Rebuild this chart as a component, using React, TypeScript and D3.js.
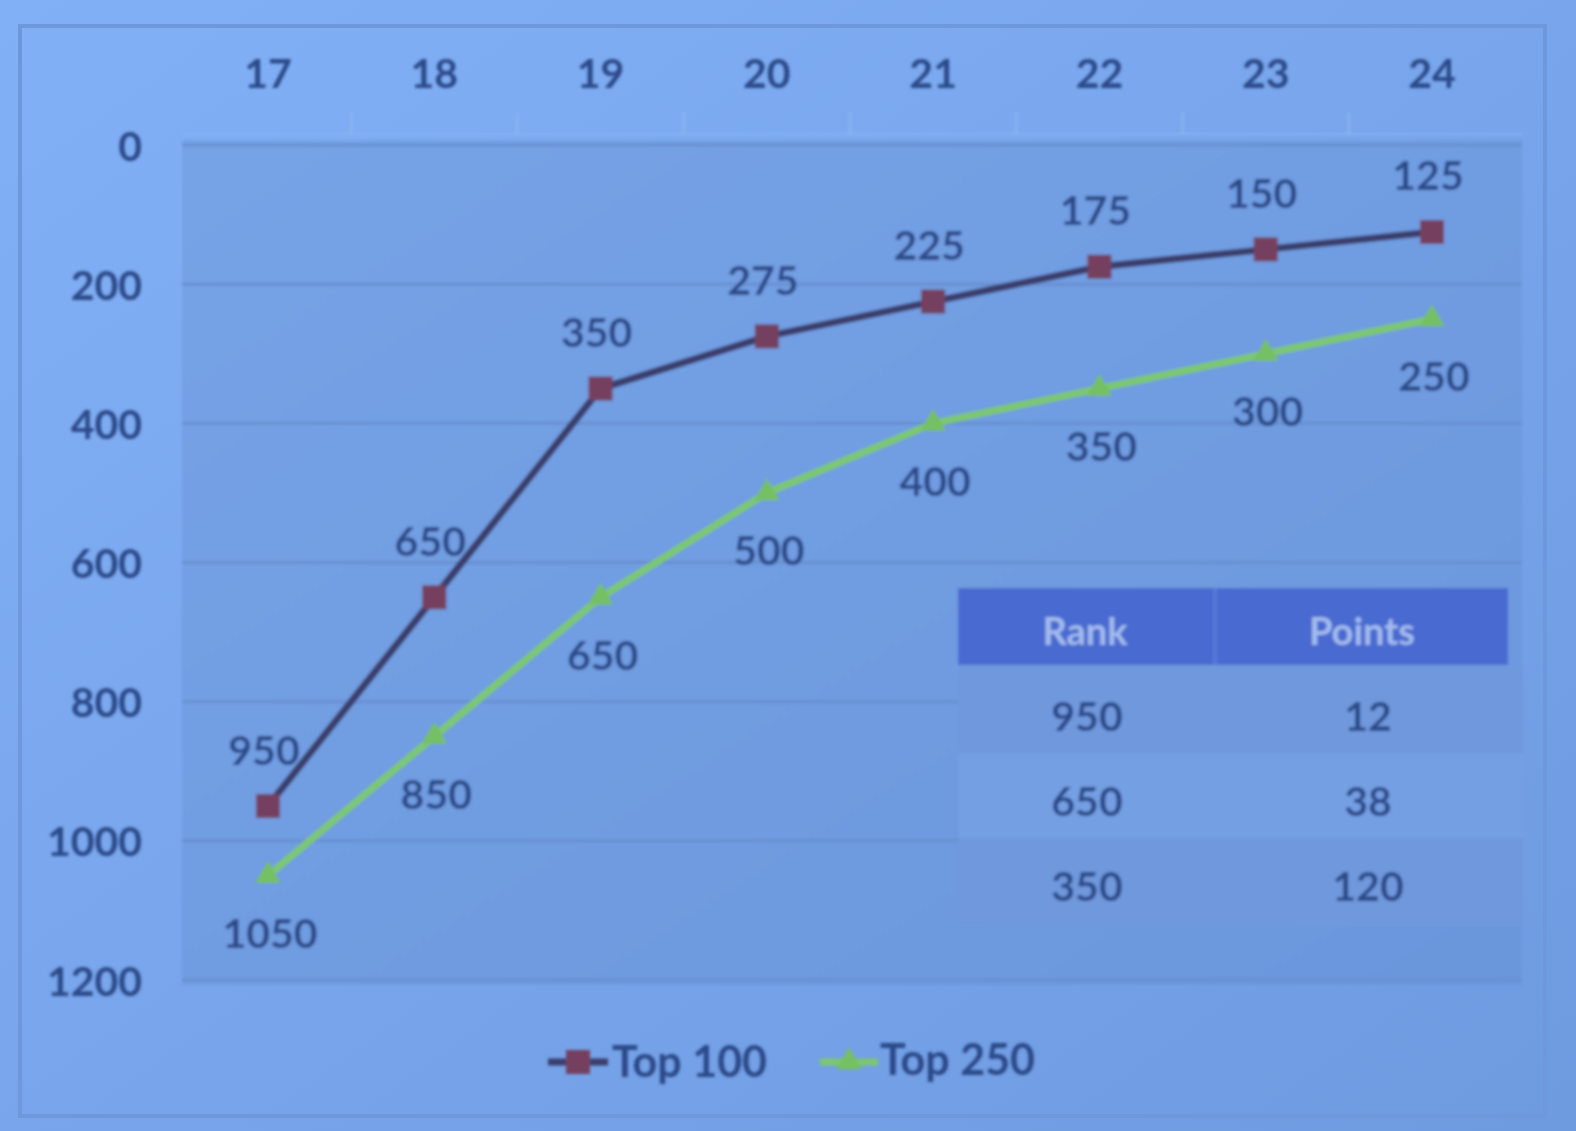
import React from "react";
import * as d3 from "d3";

const categories = ["17", "18", "19", "20", "21", "22", "23", "24"];
const top100 = [950, 650, 350, 275, 225, 175, 150, 125];
const top250 = [1050, 850, 650, 500, 400, 350, 300, 250];
const yTicks = [0, 200, 400, 600, 800, 1000, 1200];
const tableHeader = ["Rank", "Points"];
const tableRank = ["950", "650", "350"];
const tablePoints = ["12", "38", "120"];
const seriesNames = ["Top 100", "Top 250"];

const W = 1576;
const H = 1131;
const FONT = "Lato, 'Open Sans', 'DejaVu Sans', sans-serif";
const TEXT = "#2b4888";
const WEIGHT = 700;

export default function App() {
  const x = d3.scalePoint<string>().domain(categories).range([268, 1432]);
  const y = d3.scaleLinear().domain([0, 1200]).range([145, 980]);
  const plotL = 182, plotR = 1522, plotT = 140, plotB = 985;

  const line = d3
    .line<number>()
    .x((_, i) => x(categories[i]) as number)
    .y((d) => y(d));

  const step = x.step();
  const tri = d3.symbol().type(d3.symbolTriangle).size(280)();

  const tabL = 958, tabR = 1515, tabMid = 1215, headT = 588, headB = 665;
  const rowH = 85;

  const txt = (props: any, content: any, size = 41) => (
    <text
      {...props}
      dominantBaseline="central"
      fontFamily={FONT}
      fontWeight={WEIGHT}
      fontSize={size}
      fill={props.fill || TEXT}
    >
      {content}
    </text>
  );

  return (
    <svg width={W} height={H} style={{ position: "absolute", left: 0, top: 0 }}>
      <defs>
        <linearGradient id="bg" x1="0" y1="0" x2="1" y2="1">
          <stop offset="0" stopColor="#82b0f6" />
          <stop offset="1" stopColor="#6e9ae0" />
        </linearGradient>
        <linearGradient id="plot" x1="0" y1="0" x2="1" y2="1">
          <stop offset="0" stopColor="#76a2e6" />
          <stop offset="1" stopColor="#6a96dc" />
        </linearGradient>
        <filter id="blur" x="-5%" y="-5%" width="110%" height="110%">
          <feGaussianBlur stdDeviation="1.8" />
        </filter>
      </defs>
      <rect x={0} y={0} width={W} height={H} fill="url(#bg)" />
      <rect x={20} y={26} width={1525} height={1090} fill="none" stroke="#6f98dc" strokeWidth={4} />
      <g filter="url(#blur)">
        <rect x={plotL} y={plotT} width={plotR - plotL} height={plotB - plotT} fill="url(#plot)" />
        <line x1={plotL} x2={plotR} y1={plotT - 6} y2={plotT - 6} stroke="#86b2f4" strokeWidth={2} />
        {categories.map((c, i) =>
          i === 0 ? null : (
            <line
              key={"tk" + c}
              x1={(x(c) as number) - step / 2}
              x2={(x(c) as number) - step / 2}
              y1={plotT - 28}
              y2={plotT - 6}
              stroke="#8cb6f4"
              strokeWidth={2}
            />
          )
        )}
        {yTicks.map((t) => (
          <line key={"g" + t} x1={plotL} x2={plotR} y1={y(t)} y2={y(t)} stroke="#6890d2" strokeWidth={3} />
        ))}
        {yTicks.map((t) => (
          <React.Fragment key={"yl" + t}>{txt({ x: 142, y: y(t), textAnchor: "end" }, t)}</React.Fragment>
        ))}
        {categories.map((c) => (
          <React.Fragment key={"xl" + c}>{txt({ x: x(c) as number, y: 72, textAnchor: "middle" }, c)}</React.Fragment>
        ))}

        {/* table */}
        <rect x={tabL} y={headB} width={tabR - tabL + 8} height={rowH * 3 + 6} fill="#6e9ade" />
        {tableRank.map((_, i) => (
          <rect
            key={"row" + i}
            x={tabL}
            y={headB + 3 + i * rowH}
            width={tabR - tabL + 8}
            height={rowH}
            fill={i % 2 === 0 ? "#6f98dc" : "#749fe3"}
          />
        ))}
        <rect x={tabL} y={headT} width={tabR - tabL - 7} height={headB - headT} fill="#4a6ad0" />
        <line x1={tabMid} x2={tabMid} y1={headT} y2={headB} stroke="#5a7cd8" strokeWidth={3} />
        {tableHeader.map((h, i) => (
          <React.Fragment key={"th" + h}>
            {txt({ x: i === 0 ? 1085 : 1362, y: 630, textAnchor: "middle", fill: "#a3bbee" }, h, 38)}
          </React.Fragment>
        ))}
        {tableRank.map((r, i) => (
          <React.Fragment key={"tr" + i}>{txt({ x: 1087, y: 715 + i * rowH, textAnchor: "middle" }, r)}</React.Fragment>
        ))}
        {tablePoints.map((p, i) => (
          <React.Fragment key={"tp" + i}>{txt({ x: 1368, y: 715 + i * rowH, textAnchor: "middle" }, p)}</React.Fragment>
        ))}

        {/* series */}
        <path d={line(top250) as string} fill="none" stroke="#7cc86e" strokeWidth={7} />
        {top250.map((v, i) => (
          <path key={"m250" + i} d={tri as string} transform={`translate(${x(categories[i])},${y(v)})`} fill="#74c062" />
        ))}
        <path d={line(top100) as string} fill="none" stroke="#3a3c6c" strokeWidth={7} />
        {top100.map((v, i) => (
          <rect key={"m100" + i} x={(x(categories[i]) as number) - 12} y={y(v) - 12} width={24} height={24} fill="#74405e" />
        ))}
        {top100.map((v, i) => (
          <React.Fragment key={"l100" + i}>
            {txt({ x: (x(categories[i]) as number) - 4, y: y(v) - 57, textAnchor: "middle" }, v)}
          </React.Fragment>
        ))}
        {top250.map((v, i) => (
          <React.Fragment key={"l250" + i}>
            {txt({ x: (x(categories[i]) as number) + 2, y: y(v) + 57, textAnchor: "middle" }, v)}
          </React.Fragment>
        ))}

        {/* legend */}
        <line x1={548} x2={608} y1={1062} y2={1062} stroke="#3a3c6c" strokeWidth={7} />
        <rect x={566} y={1050} width={24} height={24} fill="#74405e" />
        {txt({ x: 612, y: 1060 }, seriesNames[0], 43)}
        <line x1={820} x2={878} y1={1062} y2={1062} stroke="#7cc86e" strokeWidth={7} />
        <path d={tri as string} transform="translate(849,1062)" fill="#74c062" />
        {txt({ x: 880, y: 1058 }, seriesNames[1], 43)}
      </g>
    </svg>
  );
}
